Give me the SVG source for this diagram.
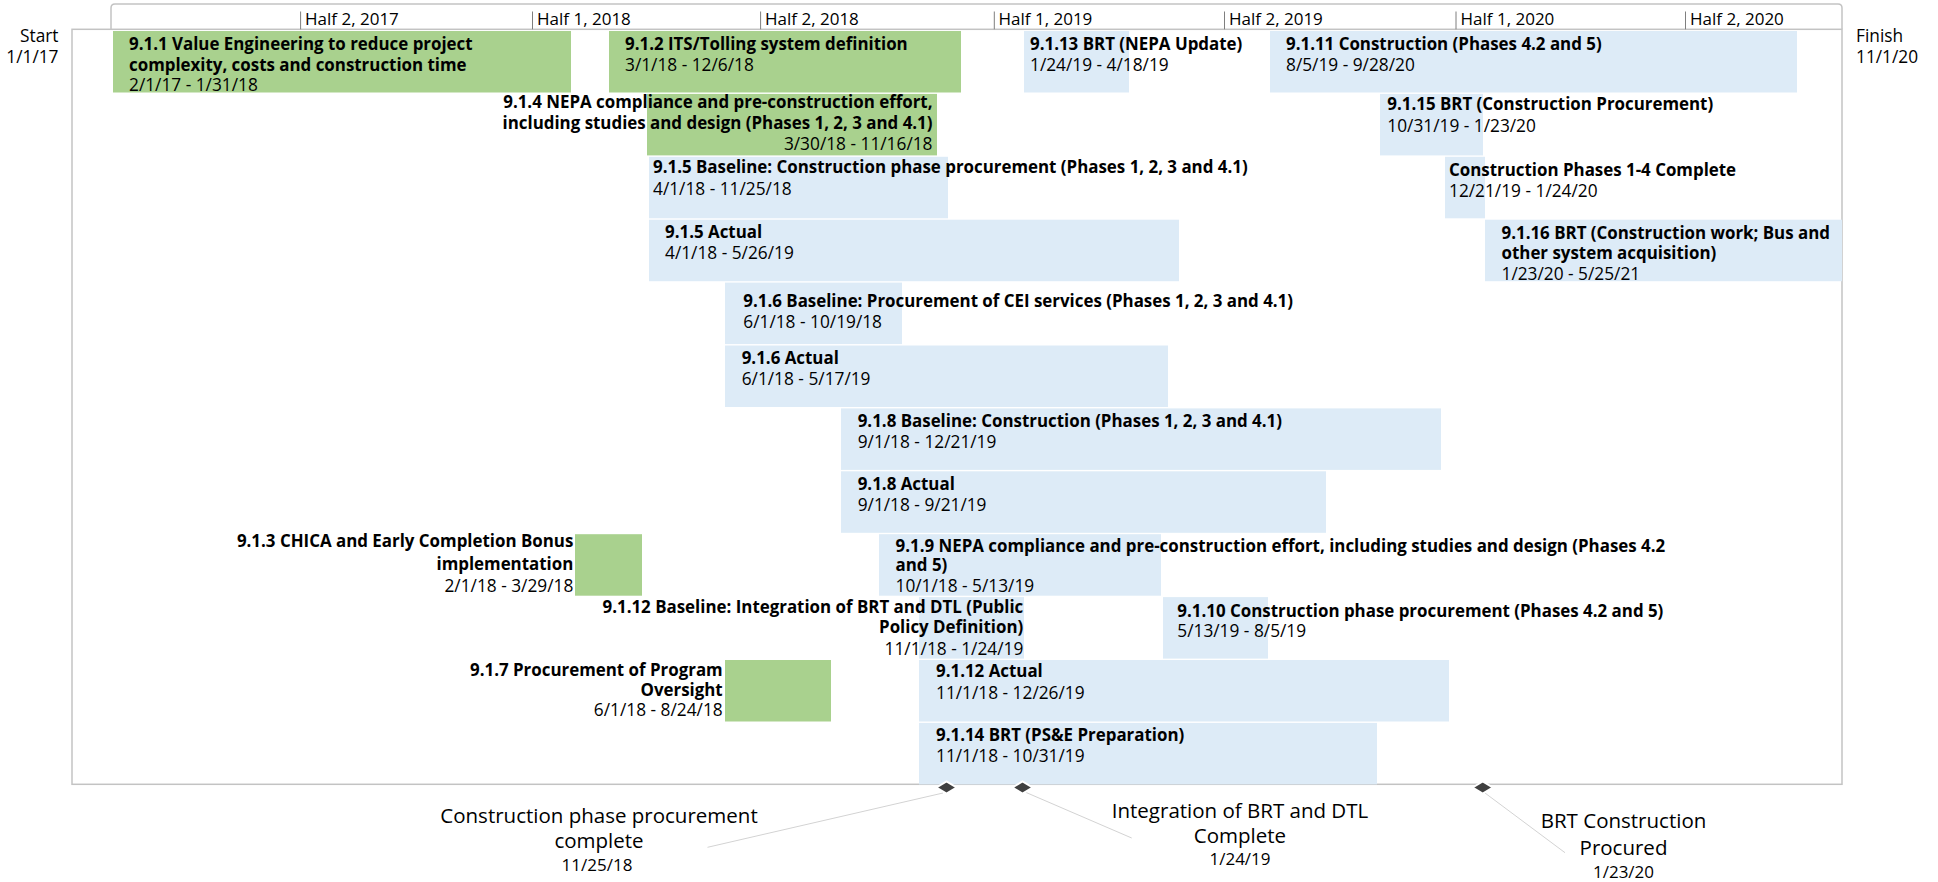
<svg xmlns="http://www.w3.org/2000/svg" width="1938" height="882" viewBox="0 0 1938 882">
<style>
.bg{fill:#A9D18E}
.bb{fill:#DDEBF7}
text{font-family:"Open Sans","Noto Sans",sans-serif;font-size:17.3px;fill:#000}
.b{font-weight:700;font-size:16.9px}
.r{text-anchor:end}
.ms{font-size:20.5px;text-anchor:middle}
.msd{font-size:17px;text-anchor:middle}
.tk{stroke:#7F7F7F;stroke-width:1}
.tl{font-size:17px}
.frame{fill:none;stroke:#C3C3C3;stroke-width:1.5}
.leader{stroke:#D3D3D3;stroke-width:1;fill:none}
.dia{fill:#404040;stroke:#FFFFFF;stroke-width:2}
</style>
<rect x="0" y="0" width="1938" height="882" fill="#FFFFFF"/>
<g id="timescale">
<rect class="frame" x="72" y="29.3" width="1770" height="755"/>
<path class="frame" d="M111,29.3 V8 Q111,4 115,4 H1838 Q1842,4 1842,8 V29.3"/>
<line class="tk" x1="300.6" y1="11.5" x2="300.6" y2="29.3"/>
<line class="tk" x1="532.5" y1="11.5" x2="532.5" y2="29.3"/>
<line class="tk" x1="760.6" y1="11.5" x2="760.6" y2="29.3"/>
<line class="tk" x1="994.3" y1="11.5" x2="994.3" y2="29.3"/>
<line class="tk" x1="1224.5" y1="11.5" x2="1224.5" y2="29.3"/>
<line class="tk" x1="1456" y1="11.5" x2="1456" y2="29.3"/>
<line class="tk" x1="1685.5" y1="11.5" x2="1685.5" y2="29.3"/>
<text class="tl" x="305" y="25">Half 2, 2017</text>
<text class="tl" x="537" y="25">Half 1, 2018</text>
<text class="tl" x="765" y="25">Half 2, 2018</text>
<text class="tl" x="998.5" y="25">Half 1, 2019</text>
<text class="tl" x="1229" y="25">Half 2, 2019</text>
<text class="tl" x="1460.5" y="25">Half 1, 2020</text>
<text class="tl" x="1690" y="25">Half 2, 2020</text>
<text class="r" x="58.5" y="41.7">Start</text>
<text class="r" x="58.5" y="63">1/1/17</text>
<text x="1856" y="41.7">Finish</text>
<text x="1856" y="63">11/1/20</text>
</g>
<g id="connectors">
<line class="leader" x1="943" y1="793" x2="707.5" y2="847.3"/>
<line class="leader" x1="1025" y1="792" x2="1131.7" y2="838"/>
<line class="leader" x1="1485" y1="793" x2="1565" y2="852.7"/>
</g>
<g id="n911"><rect class="bg" x="113" y="31" width="458" height="61.5"/>
<text class="b" x="129" y="50">9.1.1 Value Engineering to reduce project</text>
<text class="b" x="129" y="70.5">complexity, costs and construction time</text>
<text x="129" y="91">2/1/17 - 1/31/18</text></g>
<g id="n912"><rect class="bg" x="609" y="31" width="352" height="61.5"/>
<text class="b" x="625" y="49.5">9.1.2 ITS/Tolling system definition</text>
<text x="625" y="71">3/1/18 - 12/6/18</text></g>
<g id="n9113"><rect class="bb" x="1024" y="31" width="105" height="61.5"/>
<text class="b" x="1030" y="49.5">9.1.13 BRT (NEPA Update)</text>
<text x="1030" y="71">1/24/19 - 4/18/19</text></g>
<g id="n9111"><rect class="bb" x="1270" y="31" width="527" height="61.5"/>
<text class="b" x="1286" y="49.5">9.1.11 Construction (Phases 4.2 and 5)</text>
<text x="1286" y="71">8/5/19 - 9/28/20</text></g>
<g id="n914"><rect class="bg" x="647" y="93.9" width="290" height="61.5"/>
<text class="b r" x="932.5" y="108.3">9.1.4 NEPA compliance and pre-construction effort,</text>
<text class="b r" x="932.5" y="129.3">including studies and design (Phases 1, 2, 3 and 4.1)</text>
<text class="r" x="932.5" y="150">3/30/18 - 11/16/18</text></g>
<g id="n9115"><rect class="bb" x="1380" y="93.9" width="103" height="61.5"/>
<text class="b" x="1387.3" y="110">9.1.15 BRT (Construction Procurement)</text>
<text x="1387.3" y="131.5">10/31/19 - 1/23/20</text></g>
<g id="n915b"><rect class="bb" x="649" y="156.8" width="299" height="61.5"/>
<text class="b" x="653" y="173.3">9.1.5 Baseline: Construction phase procurement (Phases 1, 2, 3 and 4.1)</text>
<text x="653" y="195">4/1/18 - 11/25/18</text></g>
<g id="ncp14"><rect class="bb" x="1445" y="156.8" width="40" height="61.5"/>
<text class="b" x="1449" y="176">Construction Phases 1-4 Complete</text>
<text x="1449" y="197.3">12/21/19 - 1/24/20</text></g>
<g id="n915a"><rect class="bb" x="649" y="219.7" width="530" height="61.5"/>
<text class="b" x="665" y="238">9.1.5 Actual</text>
<text x="665" y="259.3">4/1/18 - 5/26/19</text></g>
<g id="n9116"><rect class="bb" x="1485" y="219.7" width="357" height="61.5"/>
<text class="b" x="1501.5" y="239">9.1.16 BRT (Construction work; Bus and</text>
<text class="b" x="1501.5" y="259">other system acquisition)</text>
<text x="1501.5" y="280">1/23/20 - 5/25/21</text></g>
<g id="n916b"><rect class="bb" x="725" y="282.6" width="177" height="61.5"/>
<text class="b" x="743.3" y="307">9.1.6 Baseline: Procurement of CEI services (Phases 1, 2, 3 and 4.1)</text>
<text x="743.3" y="328.3">6/1/18 - 10/19/18</text></g>
<g id="n916a"><rect class="bb" x="725" y="345.5" width="443" height="61.5"/>
<text class="b" x="741.7" y="364.3">9.1.6 Actual</text>
<text x="741.7" y="385">6/1/18 - 5/17/19</text></g>
<g id="n918b"><rect class="bb" x="841" y="408.4" width="600" height="61.5"/>
<text class="b" x="857.7" y="426.7">9.1.8 Baseline: Construction (Phases 1, 2, 3 and 4.1)</text>
<text x="857.7" y="447.7">9/1/18 - 12/21/19</text></g>
<g id="n918a"><rect class="bb" x="841" y="471.3" width="485" height="61.5"/>
<text class="b" x="857.7" y="490">9.1.8 Actual</text>
<text x="857.7" y="510.7">9/1/18 - 9/21/19</text></g>
<g id="n913"><rect class="bg" x="575" y="534.2" width="67" height="61.5"/>
<text class="b r" x="573.3" y="547.3">9.1.3 CHICA and Early Completion Bonus</text>
<text class="b r" x="573.3" y="570.3">implementation</text>
<text class="r" x="573.3" y="592">2/1/18 - 3/29/18</text></g>
<g id="n919"><rect class="bb" x="879" y="534.2" width="282" height="61.5"/>
<text class="b" x="895.5" y="551.5">9.1.9 NEPA compliance and pre-construction effort, including studies and design (Phases 4.2</text>
<text class="b" x="895.5" y="570.7">and 5)</text>
<text x="895.5" y="591.7">10/1/18 - 5/13/19</text></g>
<g id="n9112b"><rect class="bb" x="919" y="597.1" width="105" height="61.5"/>
<text class="b r" x="1023.3" y="613.3">9.1.12 Baseline: Integration of BRT and DTL (Public</text>
<text class="b r" x="1023.3" y="633.3">Policy Definition)</text>
<text class="r" x="1023.3" y="655">11/1/18 - 1/24/19</text></g>
<g id="n9110"><rect class="bb" x="1163" y="597.1" width="105" height="61.5"/>
<text class="b" x="1177.3" y="616.7">9.1.10 Construction phase procurement (Phases 4.2 and 5)</text>
<text x="1177.3" y="637.3">5/13/19 - 8/5/19</text></g>
<g id="n917"><rect class="bg" x="725" y="660" width="106" height="61.5"/>
<text class="b r" x="722.7" y="675.7">9.1.7 Procurement of Program</text>
<text class="b r" x="722.7" y="695.7">Oversight</text>
<text class="r" x="722.7" y="715.7">6/1/18 - 8/24/18</text></g>
<g id="n9112a"><rect class="bb" x="919" y="660" width="530" height="61.5"/>
<text class="b" x="936" y="677.3">9.1.12 Actual</text>
<text x="936" y="699">11/1/18 - 12/26/19</text></g>
<g id="n9114"><rect class="bb" x="919" y="722.9" width="458" height="61.5"/>
<text class="b" x="936" y="740.7">9.1.14 BRT (PS&amp;E Preparation)</text>
<text x="936" y="761.7">11/1/18 - 10/31/19</text></g>
<g id="m1"><polygon class="dia" points="936.5,787.5 946.5,781.5 956.5,787.5 946.5,793.5"/>
<text class="ms" x="599" y="823.3">Construction phase procurement</text>
<text class="ms" x="599" y="848.3">complete</text>
<text class="msd" x="597" y="870.7">11/25/18</text></g>
<g id="m2"><polygon class="dia" points="1012.5,787.5 1022.5,781.5 1032.5,787.5 1022.5,793.5"/>
<text class="ms" x="1240" y="818.3">Integration of BRT and DTL</text>
<text class="ms" x="1240" y="842.7">Complete</text>
<text class="msd" x="1240" y="865">1/24/19</text></g>
<g id="m3"><polygon class="dia" points="1472.7,787.5 1482.7,781.5 1492.7,787.5 1482.7,793.5"/>
<text class="ms" x="1623.5" y="828.3">BRT Construction</text>
<text class="ms" x="1623.5" y="855">Procured</text>
<text class="msd" x="1623.5" y="878.3">1/23/20</text></g>
</svg>
